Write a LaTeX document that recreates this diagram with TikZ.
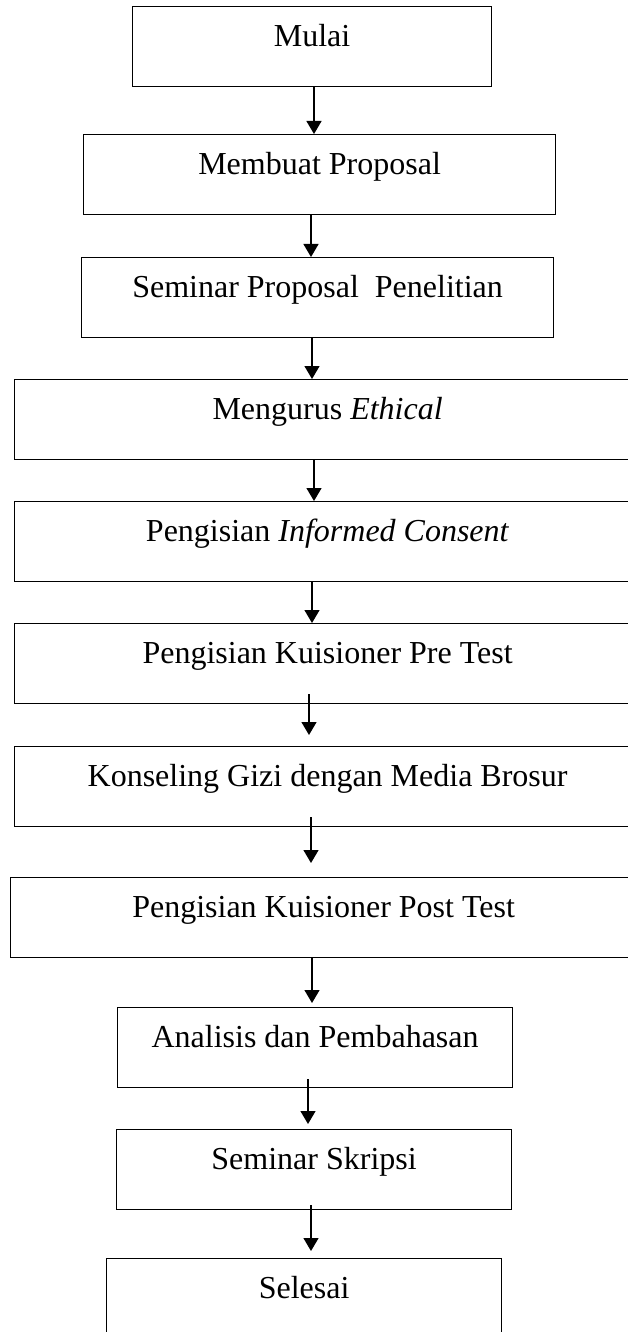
\documentclass[tikz,border=0pt]{standalone}
\usepackage{fontspec}
\setmainfont{Liberation Serif}
\usetikzlibrary{arrows.meta}
\begin{document}
\begin{tikzpicture}[x=1pt,y=-1pt,
  stepbox/.style={draw, line width=1.2pt, inner sep=0pt, text height=40pt, text depth=40pt,
    font=\fontsize{32}{38}\selectfont, anchor=north west},
  arr/.style={line width=1.3pt, -{Triangle[width=15pt,length=13pt]}}]
\useasboundingbox (0,0) rectangle (627,1332);
\node[stepbox, minimum width=359pt] (n1) at (132,6) {Mulai};
\node[stepbox, minimum width=472pt] (n2) at (83,134) {Membuat Proposal};
\node[stepbox, minimum width=472pt] (n3) at (81,257) {Seminar Proposal\ \ Penelitian};
\node[stepbox, minimum width=626pt] (n4) at (14,379) {Mengurus \textit{Ethical}};
\node[stepbox, minimum width=626pt] (n5) at (14,501) {Pengisian \textit{Informed Consent}};
\node[stepbox, minimum width=626pt] (n6) at (14,623) {Pengisian Kuisioner Pre Test};
\node[stepbox, minimum width=626pt] (n7) at (14,746) {Konseling Gizi dengan Media Brosur};
\node[stepbox, minimum width=626pt] (n8) at (10,877) {Pengisian Kuisioner Post Test};
\node[stepbox, minimum width=395pt] (n9) at (117,1007) {Analisis dan Pembahasan};
\node[stepbox, minimum width=395pt] (n10) at (116,1129) {Seminar Skripsi};
\node[stepbox, minimum width=395pt] (n11) at (106,1258) {Selesai};
\draw[arr] (n1.south -| 314,0) -- (n2.north -| 314,0);
\draw[arr] (n2.south -| 311,0) -- (n3.north -| 311,0);
\draw[arr] (n3.south -| 312,0) -- (n4.north -| 312,0);
\draw[arr] (n4.south -| 314,0) -- (n5.north -| 314,0);
\draw[arr] (n5.south -| 312,0) -- (n6.north -| 312,0);
\draw[arr, shorten <=-10pt, shorten >=11pt] (n6.south -| 309,0) -- (n7.north -| 309,0);
\draw[arr, shorten <=-10pt, shorten >=14pt] (n7.south -| 311,0) -- (n8.north -| 311,0);
\draw[arr, shorten >=4pt] (n8.south -| 312,0) -- (n9.north -| 312,0);
\draw[arr, shorten <=-9pt, shorten >=5pt] (n9.south -| 308,0) -- (n10.north -| 308,0);
\draw[arr, shorten <=-5pt, shorten >=7pt] (n10.south -| 311,0) -- (n11.north -| 311,0);
\end{tikzpicture}
\end{document}
